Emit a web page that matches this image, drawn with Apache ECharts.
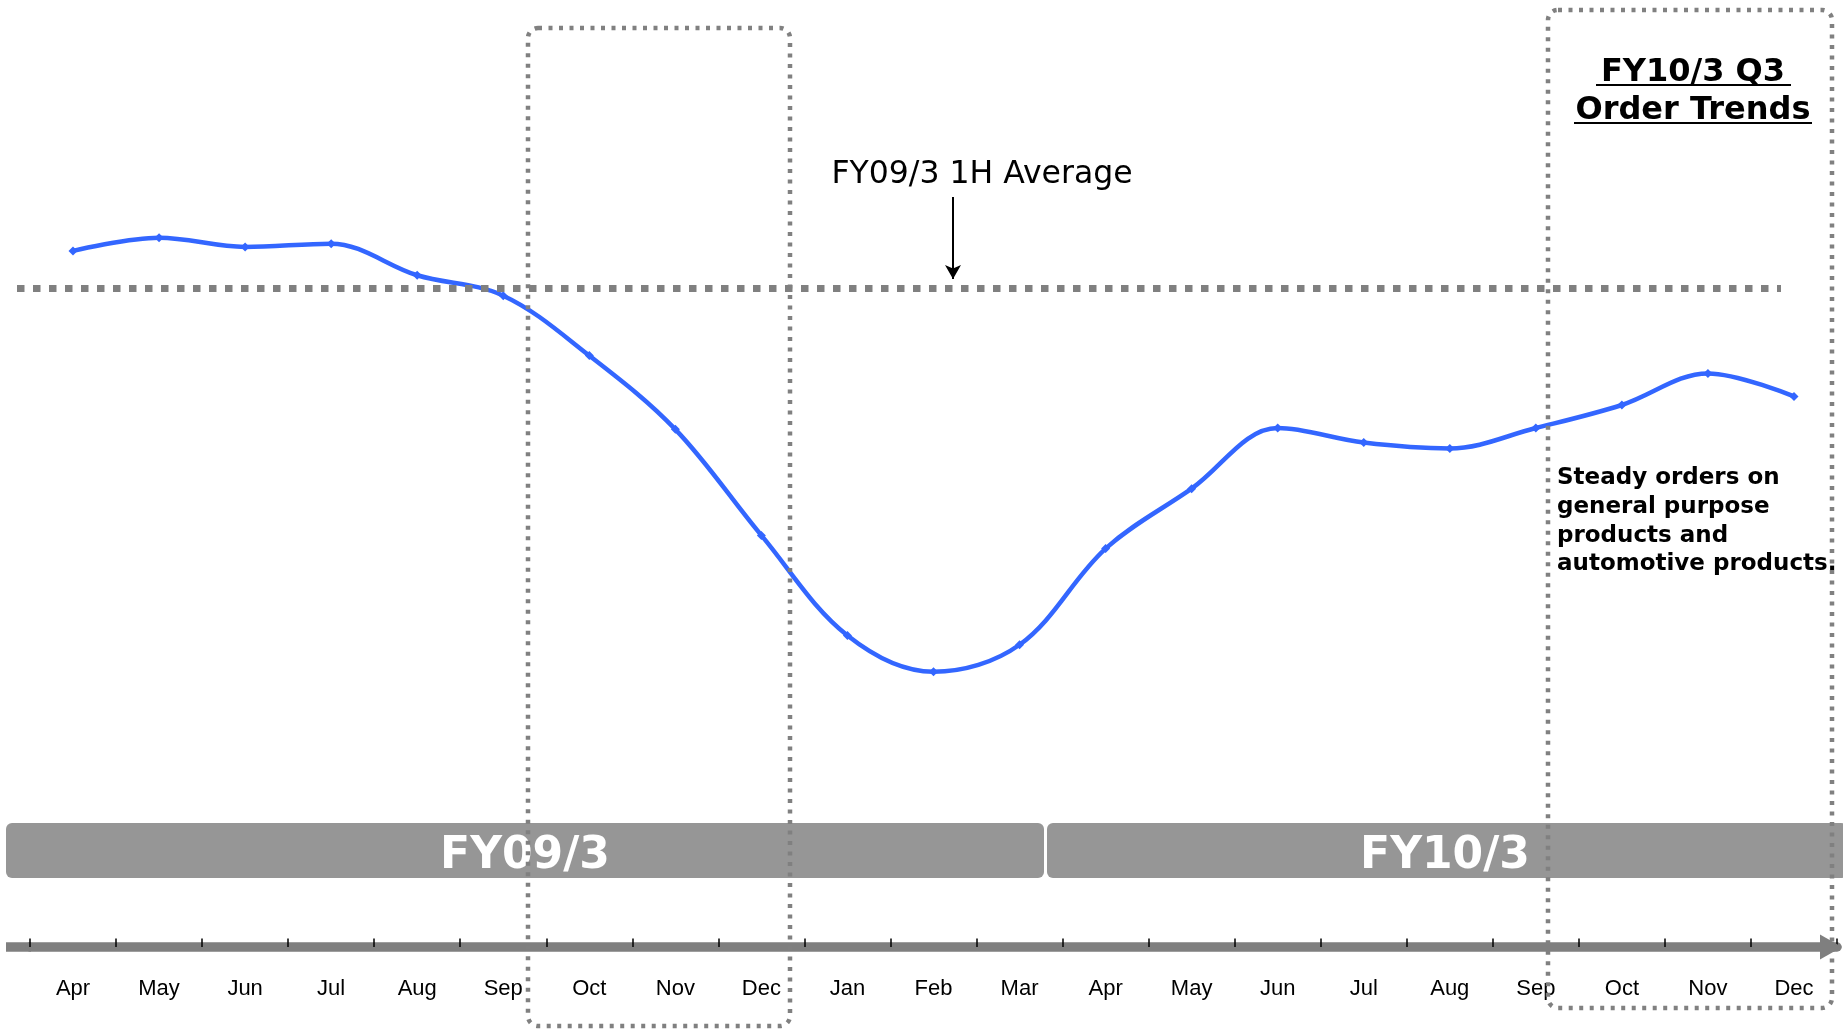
<!DOCTYPE html>
<html>
<head>
<meta charset="utf-8">
<title>FY10/3 Q3 Order Trends</title>
<script src="https://cdn.jsdelivr.net/npm/echarts@6/dist/echarts.min.js"></script>
<style>
  html, body { margin: 0; padding: 0; background: #fff; }
  #chart { width: 1843px; height: 1030px; }
</style>
</head>
<body>
<div id="chart"></div>
<script>
// months on the bottom axis: FY09/3 Apr .. FY10/3 Dec
const months = ['Apr', 'May', 'Jun', 'Jul', 'Aug', 'Sep', 'Oct', 'Nov', 'Dec', 'Jan', 'Feb', 'Mar',
  'Apr', 'May', 'Jun', 'Jul', 'Aug', 'Sep', 'Oct', 'Nov', 'Dec']
// order level (FY09/3 1H average = 100)
const orders = [105.7, 107.7, 106.3, 106.8, 102.0, 98.9, 89.8, 78.6, 62.5, 47.3, 41.8, 45.9,
  60.5, 69.6, 78.8, 76.6, 75.7, 78.8, 82.3, 87.1, 83.6]
const average = 100
const averageLabel = 'FY09/3 1H Average'
const fiscalYears = ['FY09/3', 'FY10/3']
const titleLines = ['FY10/3 Q3', 'Order Trends']
const noteLines = ['Steady orders on', 'general purpose', 'products and', 'automotive products.']

const grey = '#808080'
const dotted = { stroke: grey, fill: 'none', lineWidth: 4.5, lineDash: [4, 6.5] }

const chart = echarts.init(document.getElementById('chart'))

const option = {
  animation: false,
  grid: { left: 30, right: 6, top: 25, bottom: 83 },
  xAxis: {
    type: 'category',
    data: months,
    boundaryGap: true,
    z: 3,
    axisLine: {
      show: true,
      lineStyle: { color: '#7f7f7f', width: 9.5 },
      symbol: ['none', 'triangle'],
      symbolSize: [25, 22],
      symbolOffset: [0, -6]
    },
    axisTick: { show: true, inside: true, alignWithLabel: false, interval: 0, length: 8.5, lineStyle: { color: '#000', width: 1.5 } },
    axisLabel: { margin: 31, color: '#000', fontSize: 22, fontFamily: 'Liberation Sans, sans-serif' },
    splitLine: { show: false }
  },
  yAxis: {
    type: 'value',
    min: 0,
    max: 140,
    show: false
  },
  series: [
    {
      type: 'line',
      data: orders,
      smooth: 0.35,
      clip: false,
      symbol: 'diamond',
      symbolSize: 9,
      lineStyle: { color: '#3366ff', width: 4.5 },
      itemStyle: { color: '#3366ff' },
      markLine: {
        silent: true,
        symbol: ['none', 'arrow'],
        label: { show: false },
        data: [
          [
            { x: 17, yAxis: average, symbol: 'none',
              lineStyle: { color: grey, width: 7, type: [7.5, 8.5], cap: 'butt' } },
            { x: 1781, yAxis: average, symbol: 'none',
              lineStyle: { color: grey, width: 7, type: [7.5, 8.5], cap: 'butt' } }
          ],
          [
            { x: 953, y: 197, lineStyle: { color: '#000', width: 2, type: 'solid' } },
            { x: 953, y: 279, symbolSize: [12, 14], lineStyle: { color: '#000', width: 2, type: 'solid' } }
          ]
        ]
      }
    }
  ],
  graphic: [
    // fiscal year banners
    { type: 'rect', z: 1, shape: { x: 6, y: 823, width: 1038, height: 55, r: 6 }, style: { fill: '#969696' } },
    { type: 'rect', z: 1, shape: { x: 1047, y: 823, width: 800, height: 55, r: 6 }, style: { fill: '#969696' } },
    { type: 'text', z: 2, x: 525, y: 857,
      style: { text: fiscalYears[0], fill: '#fff', font: 'bold 44px "DejaVu Sans"', align: 'center', verticalAlign: 'middle', textAlign: 'center', textVerticalAlign: 'middle' } },
    { type: 'text', z: 2, x: 1445, y: 857,
      style: { text: fiscalYears[1], fill: '#fff', font: 'bold 44px "DejaVu Sans"', align: 'center', verticalAlign: 'middle', textAlign: 'center', textVerticalAlign: 'middle' } },
    // axis line runs a little past the first band
    { type: 'line', z: 3, shape: { x1: 6, y1: 947, x2: 31, y2: 947 }, style: { stroke: '#7f7f7f', lineWidth: 9.5 } },
    // dotted quarter boxes
    { type: 'rect', z: 10, shape: { x: 528, y: 28, width: 262, height: 998, r: 10 }, style: dotted },
    { type: 'rect', z: 10, shape: { x: 1548, y: 10, width: 284, height: 998, r: 10 }, style: dotted },
    // average label
    { type: 'text', z: 10, x: 982, y: 175,
      style: { text: averageLabel, fill: '#000', font: '31.5px "DejaVu Sans"', align: 'center', verticalAlign: 'middle', textAlign: 'center', textVerticalAlign: 'middle' } },
    // title
    { type: 'text', z: 10, x: 1693, y: 54,
      style: { text: titleLines.join('\n'), fill: '#000', font: 'bold 32px "DejaVu Sans"', lineHeight: 38, align: 'center', verticalAlign: 'top', textAlign: 'center', textVerticalAlign: 'top' } },
    { type: 'line', z: 10, shape: { x1: 1596, y1: 85, x2: 1791, y2: 85 }, style: { stroke: '#000', lineWidth: 2 } },
    { type: 'line', z: 10, shape: { x1: 1574, y1: 123, x2: 1812, y2: 123 }, style: { stroke: '#000', lineWidth: 2 } },
    // note
    { type: 'text', z: 10, x: 1557, y: 464,
      style: { text: noteLines.join('\n'), fill: '#000', font: 'bold 23px "DejaVu Sans"', lineHeight: 28.7, align: 'left', verticalAlign: 'top', textAlign: 'left', textVerticalAlign: 'top' } }
  ]
}

chart.setOption(option)
</script>
</body>
</html>
